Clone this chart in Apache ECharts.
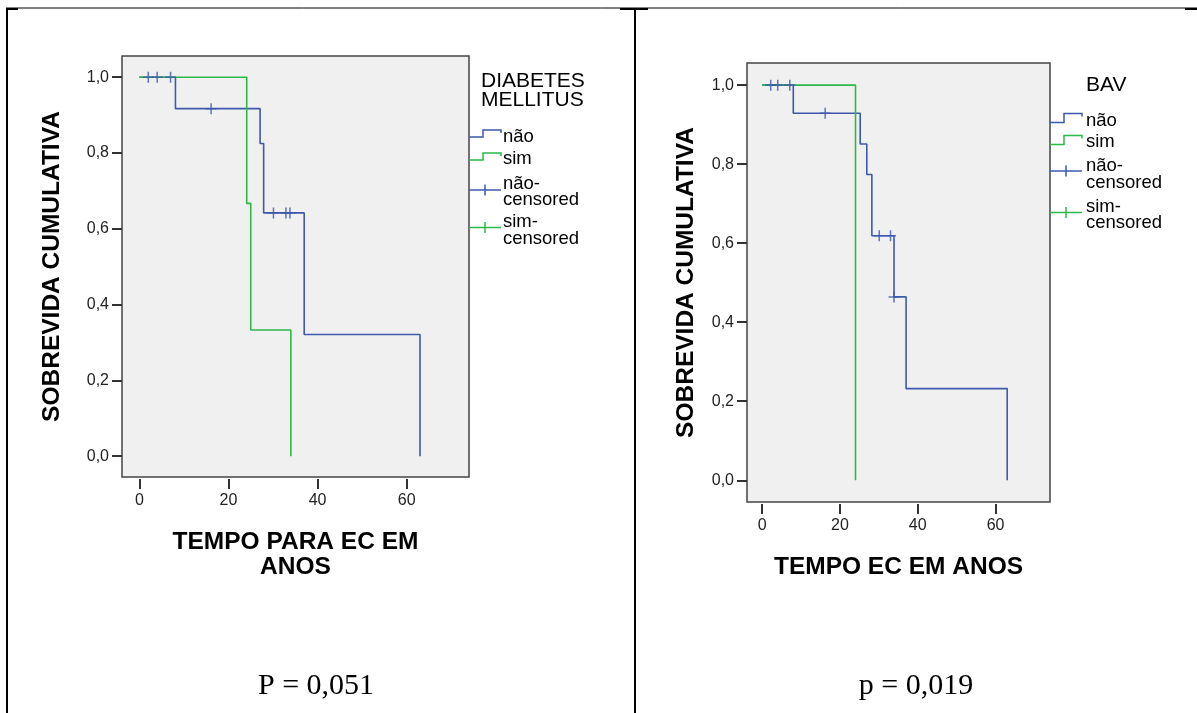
<!DOCTYPE html>
<html><head><meta charset="utf-8">
<script src="https://cdn.jsdelivr.net/npm/echarts@6/dist/echarts.min.js"></script>
<style>html,body{margin:0;padding:0;background:#fff}#c{width:1197px;height:713px}</style>
</head><body><div id="c"></div>
<script>
// ---- data ----
const xTicks = [0, 20, 40, 60];
const yTicks = [0, 0.2, 0.4, 0.6, 0.8, 1.0];

// Chart 1: DIABETES MELLITUS
const dmNaoTimes = [0, 8.1, 27.1, 27.9, 37.0, 63.0];
const dmNaoSurv  = [1.0, 0.917, 0.825, 0.642, 0.321, 0.0];
const dmNaoCensTimes = [2.0, 4.0, 7.0, 16.1, 30.1, 32.9, 33.8];
const dmNaoCensSurv  = [1.0, 1.0, 1.0, 0.917, 0.642, 0.642, 0.642];
const dmSimTimes = [0, 24.1, 25.0, 34.0];
const dmSimSurv  = [1.0, 0.667, 0.333, 0.0];

// Chart 2: BAV
const bavNaoTimes = [0, 8.0, 25.2, 26.9, 28.2, 33.9, 37.0, 63.0];
const bavNaoSurv  = [1.0, 0.929, 0.851, 0.774, 0.619, 0.464, 0.232, 0.0];
const bavNaoCensTimes = [2.2, 4.0, 7.1, 16.2, 30.1, 33.0, 33.9];
const bavNaoCensSurv  = [1.0, 1.0, 1.0, 0.929, 0.619, 0.619, 0.464];
const bavSimTimes = [0, 24.0];
const bavSimSurv  = [1.0, 0.0];

const legendLabels = ['não', 'sim', 'não-', 'censored', 'sim-', 'censored'];
const pTexts = ['P = 0,051', 'p = 0,019'];

// ---- styling ----
const BLUE = '#3E58AC';
const GREEN = '#2EB848';
const SANS = '"Liberation Sans", Arial, sans-serif';
const PLUS = 'path://M4.3,0H5.7V4.3H10V5.7H5.7V10H4.3V5.7H0V4.3H4.3Z';

function pairs(a, b) { return a.map((t, i) => [t, b[i]]); }
const yFmt = v => v.toFixed(1).replace('.', ',');

function xAxis(gi, name, gap) {
  return {
    type: 'value', gridIndex: gi, position: 'bottom', min: -3.9, max: 74, offset: 2,
    name: name, nameLocation: 'middle', nameGap: gap,
    nameTextStyle: { fontFamily: SANS, fontWeight: 'bold', fontSize: 24.5, color: '#000', lineHeight: 25 },
    axisLine: { show: false, onZero: false },
    axisTick: { show: true, length: 10, lineStyle: { color: '#333', width: 2 }, customValues: xTicks },
    axisLabel: { customValues: xTicks, color: '#222', fontSize: 16, fontFamily: SANS, margin: 14 },
    splitLine: { show: false }
  };
}
function yAxis(gi, gap) {
  return {
    type: 'value', gridIndex: gi, position: 'left', min: -0.055, max: 1.056,
    name: 'SOBREVIDA CUMULATIVA', nameLocation: 'middle', nameGap: gap,
    nameTextStyle: { fontFamily: SANS, fontWeight: 'bold', fontSize: 24.5, color: '#000' },
    axisLine: { show: false, onZero: false },
    axisTick: { show: true, length: 10, lineStyle: { color: '#333', width: 2 }, customValues: yTicks },
    axisLabel: { customValues: yTicks, formatter: yFmt, color: '#222', fontSize: 16, fontFamily: SANS, margin: 13 },
    splitLine: { show: false }
  };
}
function stepLine(gi, t, s, color, z) {
  return { type: 'line', xAxisIndex: gi, yAxisIndex: gi, step: 'end', data: pairs(t, s),
    symbol: 'none', lineStyle: { color: color, width: 1.6 }, z: z, silent: true };
}
function cens(gi, t, s, color) {
  return { type: 'scatter', xAxisIndex: gi, yAxisIndex: gi, data: pairs(t, s),
    symbol: PLUS, symbolSize: 11, itemStyle: { color: color }, z: 5, silent: true };
}

// ---- legends (graphic) ----
function stepIcon(x0, yb, h, color) {
  return { type: 'polyline', shape: { points: [[x0, yb], [x0 + 14, yb], [x0 + 14, yb - h], [x0 + 32, yb - h], [x0 + 32, yb - h + 3]] },
    style: { stroke: color, fill: null, lineWidth: 1.5 } };
}
function plusIcon(x0, y, color) {
  return [
    { type: 'line', shape: { x1: x0, y1: y, x2: x0 + 32, y2: y }, style: { stroke: color, lineWidth: 1.5 } },
    { type: 'line', shape: { x1: x0 + 16, y1: y - 5.5, x2: x0 + 16, y2: y + 5.5 }, style: { stroke: color, lineWidth: 1.5 } }
  ];
}
function txt(x, y, s, size) {
  return { type: 'text', x: x, y: y, style: { text: s, font: size + 'px ' + SANS, fill: '#000', verticalAlign: 'middle', align: 'left' } };
}
function hline(x1, x2, y, w) { return { type: 'line', shape: { x1: x1, y1: y, x2: x2, y2: y }, style: { stroke: '#000', lineWidth: w } }; }
function vline(x, y1, y2, w) { return { type: 'line', shape: { x1: x, y1: y1, x2: x, y2: y2 }, style: { stroke: '#000', lineWidth: w } }; }

const LF = 18.5;
const graphics = [
  // table borders
  hline(6, 1197, 8, 1), hline(6, 18, 9, 2), hline(620, 648, 9, 2), hline(1185, 1197, 9, 2),
  vline(7, 8, 713, 2), vline(635, 8, 713, 2),
  // left legend
  txt(481, 81, 'DIABETES', 21), txt(481, 100.5, 'MELLITUS', 21),
  stepIcon(469, 137, 7, BLUE), txt(503, 136.5, legendLabels[0], LF),
  stepIcon(469, 160, 7, GREEN), txt(503, 159, legendLabels[1], LF),
  ...plusIcon(469, 190, BLUE), txt(503, 184, legendLabels[2], LF), txt(503, 200, legendLabels[3], LF),
  ...plusIcon(469, 227.5, GREEN), txt(503, 222, legendLabels[4], LF), txt(503, 238.5, legendLabels[5], LF),
  // right legend
  txt(1086, 85, 'BAV', 21),
  stepIcon(1050, 122.5, 9, BLUE), txt(1086, 121, legendLabels[0], LF),
  stepIcon(1050, 144.5, 9, GREEN), txt(1086, 142, legendLabels[1], LF),
  ...plusIcon(1050, 171, BLUE), txt(1086, 166, legendLabels[2], LF), txt(1086, 182.5, legendLabels[3], LF),
  ...plusIcon(1050, 212.5, GREEN), txt(1086, 207, legendLabels[4], LF), txt(1086, 223, legendLabels[5], LF),
  // p values
  { type: 'text', x: 316, y: 686, style: { text: pTexts[0], font: '30px "Liberation Serif", "Times New Roman", serif', fill: '#000', align: 'center', verticalAlign: 'middle' } },
  { type: 'text', x: 916, y: 686, style: { text: pTexts[1], font: '30px "Liberation Serif", "Times New Roman", serif', fill: '#000', align: 'center', verticalAlign: 'middle' } }
];

const option = {
  animation: false,
  backgroundColor: '#fff',
  grid: [
    { left: 122, top: 56, width: 347, height: 421, show: true, backgroundColor: '#f0f0f0', borderColor: '#444', borderWidth: 1.5 },
    { left: 747, top: 63, width: 303, height: 439, show: true, backgroundColor: '#f0f0f0', borderColor: '#444', borderWidth: 1.5 }
  ],
  xAxis: [xAxis(0, 'TEMPO PARA EC EM\nANOS', 51), xAxis(1, 'TEMPO EC EM ANOS', 51)],
  yAxis: [yAxis(0, 57), yAxis(1, 48)],
  series: [
    stepLine(0, dmNaoTimes, dmNaoSurv, BLUE, 2),
    stepLine(0, dmSimTimes, dmSimSurv, GREEN, 3),
    cens(0, dmNaoCensTimes, dmNaoCensSurv, BLUE),
    stepLine(1, bavNaoTimes, bavNaoSurv, BLUE, 2),
    stepLine(1, bavSimTimes, bavSimSurv, GREEN, 3),
    cens(1, bavNaoCensTimes, bavNaoCensSurv, BLUE)
  ],
  graphic: graphics
};
const chart = echarts.init(document.getElementById('c'), null, { renderer: 'canvas' });
chart.setOption(option);
</script>
</body></html>
